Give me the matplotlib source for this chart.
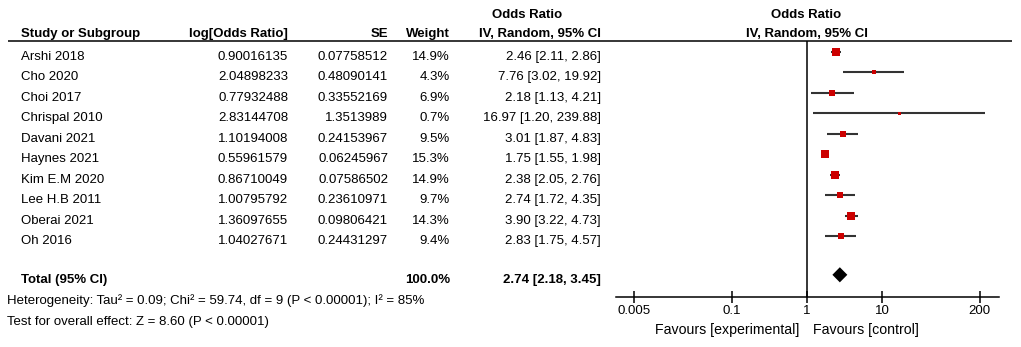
import numpy as np
import matplotlib
matplotlib.use("Agg")
import matplotlib.pyplot as plt

plt.rcParams["font.family"] = ["Liberation Sans", "DejaVu Sans"]

# data
studies = ["Arshi 2018", "Cho 2020", "Choi 2017", "Chrispal 2010", "Davani 2021",
           "Haynes 2021", "Kim E.M 2020", "Lee H.B 2011", "Oberai 2021", "Oh 2016"]
log_or = [0.90016135, 2.04898233, 0.77932488, 2.83144708, 1.10194008,
          0.55961579, 0.86710049, 1.00795792, 1.36097655, 1.04027671]
se = [0.07758512, 0.48090141, 0.33552169, 1.3513989, 0.24153967,
      0.06245967, 0.07586502, 0.23610971, 0.09806421, 0.24431297]
weights = [14.9, 4.3, 6.9, 0.7, 9.5, 15.3, 14.9, 9.7, 14.3, 9.4]
or_est = [2.46, 7.76, 2.18, 16.97, 3.01, 1.75, 2.38, 2.74, 3.90, 2.83]
ci_lo = [2.11, 3.02, 1.13, 1.20, 1.87, 1.55, 2.05, 1.72, 3.22, 1.75]
ci_hi = [2.86, 19.92, 4.21, 239.88, 4.83, 1.98, 2.76, 4.35, 4.73, 4.57]

total_weight = 100.0
total_or, total_lo, total_hi = 2.74, 2.18, 3.45
heterogeneity = "Heterogeneity: Tau\u00b2 = 0.09; Chi\u00b2 = 59.74, df = 9 (P < 0.00001); I\u00b2 = 85%"
overall = "Test for overall effect: Z = 8.60 (P < 0.00001)"

x_ticks = [0.005, 0.1, 1, 10, 200]
x_ticklabels = ["0.005", "0.1", "1", "10", "200"]

W, H = 1021, 347
fig = plt.figure(figsize=(W / 100, H / 100), dpi=100)

# text layer in pixel coordinates
ax_t = fig.add_axes([0, 0, 1, 1])
ax_t.set_xlim(0, W)
ax_t.set_ylim(H, 0)
ax_t.axis("off")

fs = 9.5
row0, row_h = 52, 20.44
base_off = 8

def fmt(v):
    return f"{v:.8f}".rstrip("0")

# headers
ax_t.text(21, 37, "Study or Subgroup", fontsize=fs, fontweight="bold", ha="left", va="baseline")
ax_t.text(288, 37, "log[Odds Ratio]", fontsize=fs, fontweight="bold", ha="right", va="baseline")
ax_t.text(388, 37, "SE", fontsize=fs, fontweight="bold", ha="right", va="baseline")
ax_t.text(450, 37, "Weight", fontsize=fs, fontweight="bold", ha="right", va="baseline")
ax_t.text(527, 18, "Odds Ratio", fontsize=fs, fontweight="bold", ha="center", va="baseline")
ax_t.text(601, 37, "IV, Random, 95% CI", fontsize=fs, fontweight="bold", ha="right", va="baseline")
ax_t.text(806, 18, "Odds Ratio", fontsize=fs, fontweight="bold", ha="center", va="baseline")
ax_t.text(807, 37, "IV, Random, 95% CI", fontsize=fs, fontweight="bold", ha="center", va="baseline")
ax_t.plot([8, 1012], [41, 41], color="black", lw=1.1, solid_capstyle="butt")

# study rows
for i, name in enumerate(studies):
    yb = row0 + row_h * i + base_off
    ax_t.text(21, yb, name, fontsize=fs, ha="left", va="baseline")
    ax_t.text(288, yb, fmt(log_or[i]), fontsize=fs, ha="right", va="baseline")
    ax_t.text(388, yb, fmt(se[i]), fontsize=fs, ha="right", va="baseline")
    ax_t.text(450, yb, f"{weights[i]:.1f}%", fontsize=fs, ha="right", va="baseline")
    ax_t.text(601, yb, f"{or_est[i]:.2f} [{ci_lo[i]:.2f}, {ci_hi[i]:.2f}]",
              fontsize=fs, ha="right", va="baseline")

y_total = 10.9
yb = row0 + row_h * y_total + base_off
ax_t.text(21, yb, "Total (95% CI)", fontsize=fs, fontweight="bold", ha="left", va="baseline")
ax_t.text(450, yb, f"{total_weight:.1f}%", fontsize=fs, fontweight="bold", ha="right", va="baseline")
ax_t.text(601, yb, f"{total_or:.2f} [{total_lo:.2f}, {total_hi:.2f}]",
          fontsize=fs, fontweight="bold", ha="right", va="baseline")
ax_t.text(7, 304, heterogeneity, fontsize=fs, ha="left", va="baseline")
ax_t.text(7, 325, overall, fontsize=fs, ha="left", va="baseline")
ax_t.text(799, 334, "Favours [experimental]", fontsize=10.2, ha="right", va="baseline")
ax_t.text(813, 334, "Favours [control]", fontsize=10.2, ha="left", va="baseline")

# forest panel, log scale: 1 decade = 75 px, OR=1 at x=807
px_left, px_right, px_top, px_bot = 616, 999, 41, 297
ax_f = fig.add_axes([px_left / W, (H - px_bot) / H, (px_right - px_left) / W, (px_bot - px_top) / H])
ax_f.patch.set_alpha(0)
ax_f.set_xscale("log")
ax_f.set_xlim(10 ** ((px_left - 807) / 75), 10 ** ((px_right - 807) / 75))
ax_f.set_ylim((px_bot - row0) / row_h, (px_top - row0) / row_h)

ax_f.axvline(1, color="black", lw=1.1)
for i in range(len(studies)):
    ax_f.plot([ci_lo[i], ci_hi[i]], [i, i], color="#333333", lw=1.5, solid_capstyle="butt")
    side_px = max(3, 2.0 * np.sqrt(weights[i]))
    ax_f.plot(or_est[i], i, marker="s", ms=side_px * 0.72, color="#cc0000", mec="#cc0000", mew=0)

h = 0.37
ax_f.fill([total_lo, total_or, total_hi, total_or], [y_total, y_total - h, y_total, y_total + h],
          color="black", lw=0)

for s in ["top", "left", "right"]:
    ax_f.spines[s].set_visible(False)
ax_f.spines["bottom"].set_linewidth(1.1)
ax_f.set_yticks([])
ax_f.set_xticks(x_ticks)
ax_f.set_xticklabels(x_ticklabels, fontsize=fs)
ax_f.xaxis.set_minor_locator(matplotlib.ticker.NullLocator())
ax_f.tick_params(axis="x", direction="inout", length=8, width=1.1, pad=2)

fig.savefig("out.png", dpi=100)
